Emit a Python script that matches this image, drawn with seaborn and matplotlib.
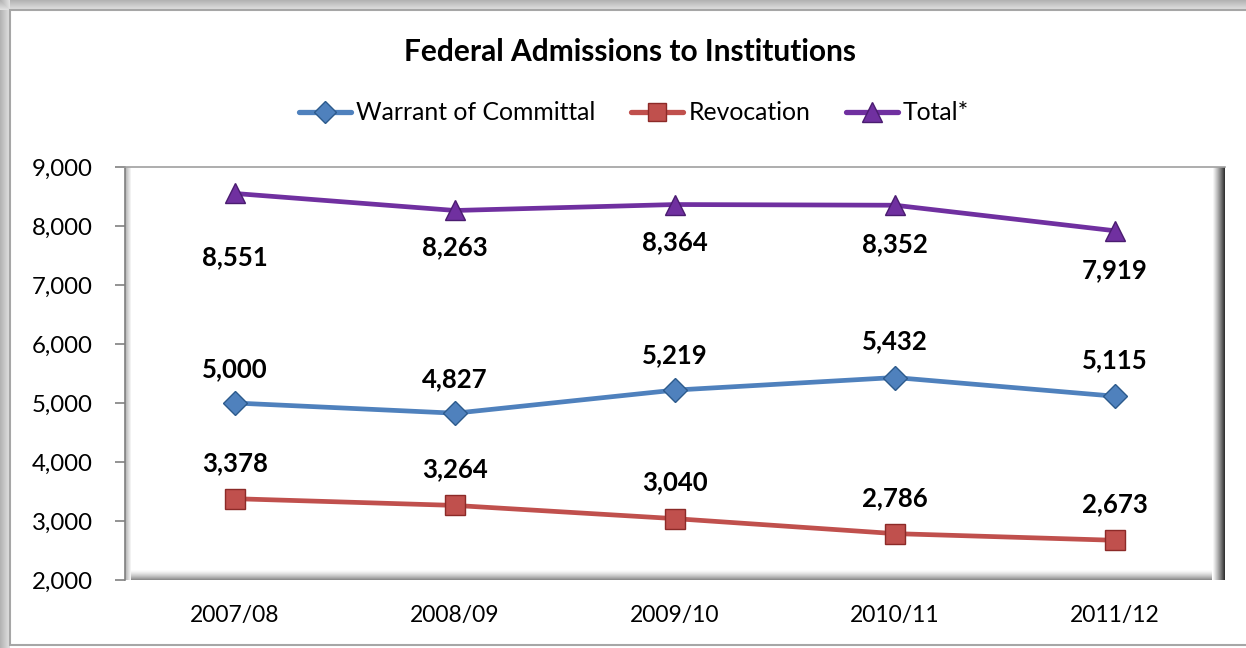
import numpy as np
import pandas as pd
import matplotlib
matplotlib.use("Agg")
import matplotlib.pyplot as plt
from matplotlib.patches import Rectangle
from matplotlib.lines import Line2D
import seaborn as sns

years = ["2007/08", "2008/09", "2009/10", "2010/11", "2011/12"]
warrant = [5000, 4827, 5219, 5432, 5115]
revocation = [3378, 3264, 3040, 2786, 2673]
total = [8551, 8263, 8364, 8352, 7919]
series_names = ["Warrant of Committal", "Revocation", "Total*"]
title = "Federal Admissions to Institutions"
yticks = [2000, 3000, 4000, 5000, 6000, 7000, 8000, 9000]

colors = {"Warrant of Committal": "#4F81BD", "Revocation": "#C0504D", "Total*": "#7030A0"}
edge = {"Warrant of Committal": "#2C5A8C", "Revocation": "#8C2A28", "Total*": "#4A1C70"}
markers = {"Warrant of Committal": "D", "Revocation": "s", "Total*": "^"}
msize = {"Warrant of Committal": 12, "Revocation": 14, "Total*": 15}
# label offsets in pixels (dy)
lab_dy = {
    "Warrant of Committal": [34, 34, 35, 36, 36],
    "Revocation": [36, 36, 36, 35, 36],
    "Total*": [-64, -37, -38, -39, -39],
}

df = pd.DataFrame({
    "year": years * 3,
    "value": warrant + revocation + total,
    "series": [series_names[0]] * 5 + [series_names[1]] * 5 + [series_names[2]] * 5,
})

sns.set_theme(style="white")
plt.rcParams["font.family"] = ["Lato", "DejaVu Sans"]
plt.rcParams["text.color"] = "black"
plt.rcParams["xtick.color"] = "black"
plt.rcParams["ytick.color"] = "black"

W, H = 1246, 648
fig = plt.figure(figsize=(W / 100, H / 100), dpi=100)
fig.patch.set_facecolor("white")

def fx(px):
    return px / W

def fy(py):
    return 1 - py / H

# outer frame shadow (top/left bands)
n = 10
for i in range(n):
    g = 0.70 + 0.2 * i / n
    fig.add_artist(Rectangle((0, fy(i + 1)), 1, 1 / H, transform=fig.transFigure,
                             facecolor=(g, g, g), edgecolor="none", zorder=-3))
    fig.add_artist(Rectangle((fx(i), 0), 1 / W, 1, transform=fig.transFigure,
                             facecolor=(g, g, g), edgecolor="none", zorder=-3))
fig.add_artist(Rectangle((fx(10), fy(645)), fx(1246 - 10 + 5), fy(10) - fy(645),
                         transform=fig.transFigure, facecolor="white",
                         edgecolor="#A6A6A6", linewidth=1.5, zorder=-2))

ax_l, ax_r, ax_t, ax_b = 125, 1225, 167, 580
ax = fig.add_axes([fx(ax_l), fy(ax_b), fx(ax_r - ax_l), fy(ax_t) - fy(ax_b)])
ax.set_facecolor("white")

sns.lineplot(data=df, x="year", y="value", hue="series", style="series",
             markers=markers, dashes=False, palette=colors, linewidth=3.4,
             ax=ax, legend=False, sort=False, zorder=5)

for line, name in zip(ax.get_lines(), series_names):
    line.set_markersize(msize[name])
    line.set_markeredgecolor(edge[name])
    line.set_markeredgewidth(1.0)
    line.set_solid_capstyle("round")

ax.set_xlim(-0.5, 4.5)
ax.set_ylim(2000, 9000)
ax.set_yticks(yticks)
ax.set_yticklabels([f"{v:,}" for v in yticks], fontsize=17.3)
ax.set_xticks(range(len(years)))
ax.set_xticklabels(years, fontsize=16.5)
ax.set_xlabel("")
ax.set_ylabel("")
ax.tick_params(axis="y", left=True, length=7, width=1.2, color="#808080", pad=16,
               labelcolor="black")
ax.tick_params(axis="x", bottom=False, pad=12, labelcolor="black")
ax.spines["top"].set_color("#A0A0A0")
ax.spines["top"].set_linewidth(1.2)
ax.spines["right"].set_visible(False)
ax.spines["bottom"].set_visible(False)
ax.spines["left"].set_color("#808080")
ax.spines["left"].set_linewidth(1.2)

# bevel effects
bw = ax_r - ax_l
bh = ax_b - ax_t
nb = 13
for i in range(nb):
    t = i / (nb - 1)
    g = 1 - 0.8 * t ** 1.2
    ax.add_patch(Rectangle((1 - (nb - i) / bw, 0), 1 / bw, 1, transform=ax.transAxes,
                           facecolor=(g, g, g), edgecolor="none", zorder=1, clip_on=False))
nb2 = 11
for i in range(nb2):
    t = i / (nb2 - 1)
    g = 1 - 0.45 * t ** 1.5
    ax.add_patch(Rectangle((0, (nb2 - 1 - i) / bh), 1 - nb / bw, 1 / bh, transform=ax.transAxes,
                           facecolor=(g, g, g), edgecolor="none", zorder=1, clip_on=False))
for i in range(6):
    g = 0.7 + 0.3 * i / 6
    ax.add_patch(Rectangle((i / bw, 0), 1 / bw, 1, transform=ax.transAxes,
                           facecolor=(g, g, g), edgecolor="none", zorder=1, clip_on=False))

# data labels
vals = {"Warrant of Committal": warrant, "Revocation": revocation, "Total*": total}
for name in series_names:
    for i, v in enumerate(vals[name]):
        ax.annotate(f"{v:,}", (i, v), xytext=(0, lab_dy[name][i]), textcoords="offset pixels",
                    ha="center", va="center", fontsize=18.5, fontweight="bold",
                    color="black", zorder=6)

fig.text(0.506, fy(52), title, ha="center", va="center", fontsize=21.5,
         fontweight="bold", color="black")

handles = [Line2D([], [], color=colors[n_], marker=markers[n_], markersize=msize[n_] * 0.95,
                  markeredgecolor=edge[n_], linewidth=3.8, solid_capstyle="round")
           for n_ in series_names]
fig.legend(handles, series_names, loc="center", bbox_to_anchor=(0.509, fy(113)), ncol=3,
           frameon=False, fontsize=17.8, handlelength=2.1, handletextpad=0.2,
           columnspacing=1.45, labelcolor="black")

fig.savefig("out.png", dpi=100, facecolor=fig.get_facecolor())
